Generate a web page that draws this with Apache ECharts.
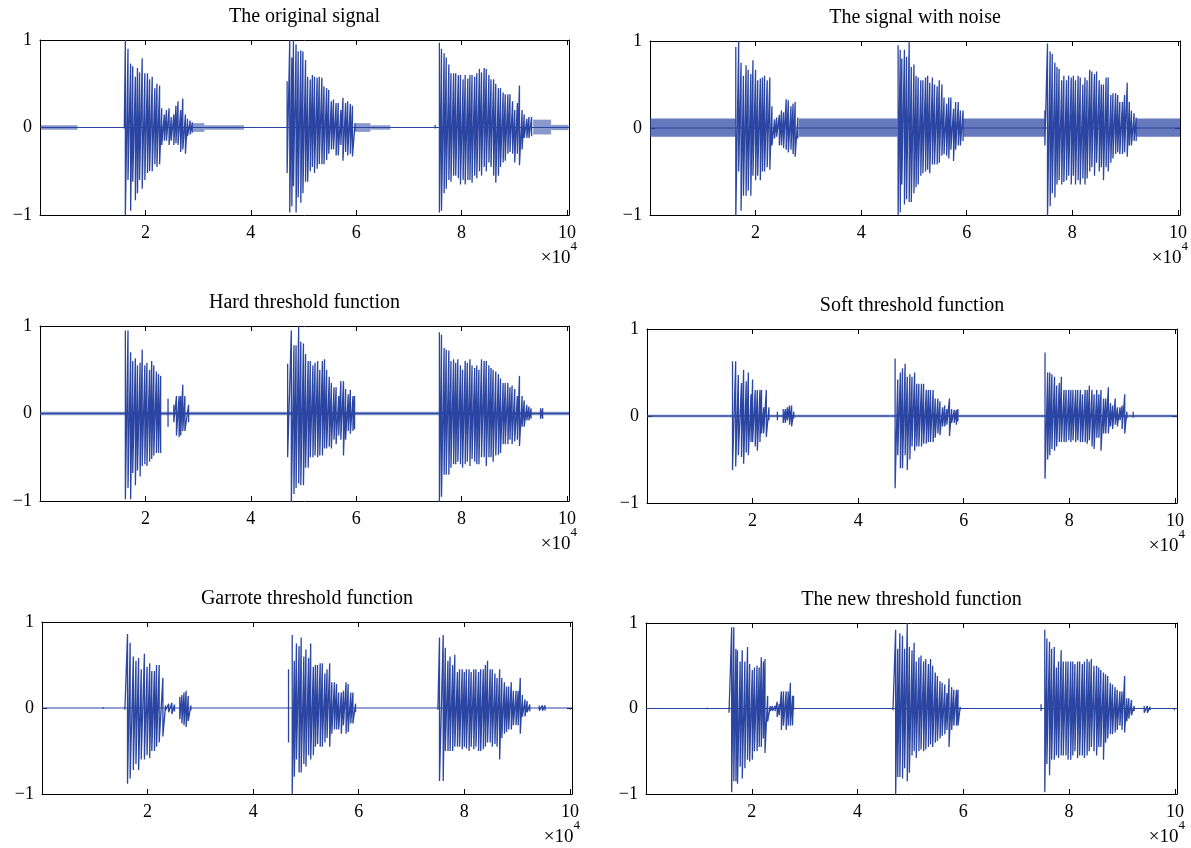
<!DOCTYPE html>
<html><head><meta charset="utf-8">
<script src="https://cdn.jsdelivr.net/npm/echarts@6/dist/echarts.min.js"></script>
<style>html,body{margin:0;padding:0;background:#fff}#c{width:1191px;height:848px}</style>
</head><body><div id="c"></div>
<script>
// ---------- DATA (x in units of 1e4 samples; strokes are [x, top, bottom]) ----------
const titles = ['The original signal','The signal with noise','Hard threshold function','Soft threshold function','Garrote threshold function','The new threshold function'];
const xTickLabels = [2,4,6,8,10];
const yTickLabels = [-1,0,1];
const xMax = 10.04;

const origB1 = [[1.60,0.03,-0.01],[1.62,1.0,-1.0],[1.67,0.9,-0.6],[1.72,0.73,-0.95],[1.76,0.7,-0.62],[1.81,0.58,-0.83],[1.85,0.68,-0.75],[1.89,0.63,-0.6],[1.94,0.79,-0.7],[1.99,0.62,-0.6],[2.04,0.62,-0.52],[2.08,0.55,-0.5],[2.13,0.58,-0.5],[2.18,0.45,-0.42],[2.22,0.5,-0.45],[2.27,0.48,-0.42],[2.31,0.22,-0.2],[2.36,0.15,-0.15],[2.40,0.2,-0.15],[2.45,0.22,-0.2],[2.49,0.12,-0.15],[2.54,0.15,-0.2],[2.58,0.25,-0.18],[2.62,0.3,-0.2],[2.67,0.2,-0.28],[2.71,0.33,-0.25],[2.76,0.15,-0.3],[2.80,0.1,-0.1],[2.85,0.08,-0.08],[2.89,0.06,-0.06]];
const origB2 = [[4.69,0.53,-0.52],[4.74,1.0,-0.97],[4.78,0.8,-0.9],[4.81,1.0,-0.67],[4.86,0.95,-0.97],[4.90,0.87,-0.8],[4.95,0.88,-0.86],[4.99,0.87,-0.75],[5.04,0.77,-0.62],[5.08,0.58,-0.62],[5.13,0.55,-0.5],[5.17,0.6,-0.45],[5.21,0.58,-0.52],[5.26,0.57,-0.47],[5.30,0.58,-0.42],[5.35,0.57,-0.42],[5.39,0.47,-0.42],[5.44,0.45,-0.37],[5.48,0.43,-0.3],[5.53,0.3,-0.25],[5.57,0.32,-0.25],[5.62,0.28,-0.32],[5.66,0.28,-0.32],[5.71,0.2,-0.2],[5.75,0.34,-0.38],[5.80,0.28,-0.28],[5.84,0.3,-0.32],[5.89,0.27,-0.3],[5.93,0.25,-0.33],[5.98,0.05,-0.04]];
const origB3 = [[7.50,0.03,-0.01],[7.58,0.97,-0.97],[7.62,0.9,-0.95],[7.67,0.85,-0.75],[7.71,0.8,-0.7],[7.76,0.72,-0.6],[7.80,0.62,-0.62],[7.85,0.62,-0.55],[7.89,0.62,-0.55],[7.94,0.6,-0.58],[7.98,0.6,-0.65],[8.03,0.55,-0.6],[8.07,0.6,-0.65],[8.12,0.56,-0.6],[8.16,0.6,-0.6],[8.20,0.6,-0.63],[8.25,0.58,-0.55],[8.29,0.62,-0.58],[8.34,0.67,-0.5],[8.38,0.63,-0.55],[8.43,0.68,-0.45],[8.47,0.67,-0.5],[8.52,0.6,-0.4],[8.56,0.55,-0.45],[8.61,0.55,-0.55],[8.65,0.5,-0.63],[8.70,0.45,-0.55],[8.74,0.45,-0.45],[8.79,0.4,-0.4],[8.83,0.38,-0.38],[8.88,0.38,-0.3],[8.92,0.38,-0.28],[8.97,0.3,-0.3],[9.01,0.2,-0.4],[9.06,0.28,-0.3],[9.10,0.48,-0.43],[9.15,0.2,-0.25],[9.19,0.15,-0.12],[9.24,0.1,-0.12],[9.28,0.12,-0.12],[9.33,0.12,-0.1]];
const origBand = [[0.02,0.71,0.025,-0.025],[2.9,3.12,0.05,-0.05],[3.12,3.87,0.025,-0.025],[5.98,6.27,0.05,-0.05],[6.27,6.65,0.025,-0.025],[9.36,9.7,0.09,-0.08],[9.7,10.03,0.03,-0.03]];

const noisyB1 = [[1.625,0.93,-1.03],[1.68,1.0,-0.5],[1.725,0.75,-0.95],[1.77,0.6,-0.78],[1.82,0.72,-0.78],[1.86,0.67,-0.72],[1.91,0.62,-0.78],[1.95,0.78,-0.55],[2.0,0.67,-0.6],[2.04,0.55,-0.55],[2.09,0.57,-0.6],[2.13,0.58,-0.5],[2.17,0.6,-0.5],[2.22,0.55,-0.45],[2.27,0.58,-0.48],[2.31,0.25,-0.2],[2.36,0.1,-0.12],[2.40,0.12,-0.1],[2.45,0.15,-0.2],[2.49,0.2,-0.2],[2.53,0.18,-0.23],[2.58,0.33,-0.25],[2.62,0.32,-0.28],[2.67,0.25,-0.25],[2.71,0.28,-0.3],[2.75,0.3,-0.33],[2.80,0.12,-0.12]];
const noisyB2 = [[4.70,0.95,-1.0],[4.74,0.9,-0.97],[4.77,0.8,-0.65],[4.82,0.9,-0.88],[4.86,0.82,-0.82],[4.91,1.0,-0.85],[4.95,0.7,-0.85],[5.0,0.73,-0.75],[5.04,0.6,-0.68],[5.08,0.58,-0.65],[5.13,0.55,-0.55],[5.17,0.55,-0.52],[5.22,0.58,-0.5],[5.26,0.6,-0.48],[5.30,0.52,-0.52],[5.35,0.58,-0.42],[5.39,0.5,-0.42],[5.44,0.48,-0.42],[5.48,0.55,-0.4],[5.53,0.5,-0.32],[5.57,0.35,-0.3],[5.62,0.28,-0.32],[5.66,0.35,-0.35],[5.70,0.35,-0.25],[5.75,0.22,-0.38],[5.79,0.3,-0.25],[5.84,0.3,-0.2],[5.88,0.2,-0.2],[5.93,0.2,-0.15]];
const noisyB3 = [[7.48,0.2,-0.2],[7.53,0.97,-1.03],[7.58,0.88,-0.9],[7.62,0.85,-0.75],[7.67,0.75,-0.8],[7.71,0.7,-0.65],[7.75,0.68,-0.6],[7.80,0.55,-0.65],[7.84,0.6,-0.62],[7.89,0.55,-0.6],[7.93,0.6,-0.55],[7.98,0.58,-0.65],[8.02,0.6,-0.55],[8.06,0.55,-0.65],[8.11,0.6,-0.6],[8.15,0.58,-0.65],[8.20,0.5,-0.58],[8.24,0.58,-0.65],[8.28,0.55,-0.58],[8.33,0.67,-0.5],[8.37,0.65,-0.45],[8.42,0.62,-0.55],[8.46,0.65,-0.4],[8.51,0.55,-0.5],[8.55,0.5,-0.45],[8.59,0.5,-0.6],[8.64,0.58,-0.45],[8.68,0.58,-0.5],[8.73,0.38,-0.4],[8.77,0.4,-0.35],[8.82,0.4,-0.3],[8.86,0.38,-0.28],[8.90,0.3,-0.3],[8.95,0.3,-0.3],[8.99,0.38,-0.28],[9.04,0.52,-0.33],[9.08,0.3,-0.2],[9.12,0.2,-0.2],[9.17,0.17,-0.15],[9.21,0.12,-0.15]];
const noisyBand = [[0.0,1.62,0.11,-0.1],[2.82,4.69,0.11,-0.1],[5.93,7.48,0.11,-0.1],[9.21,10.04,0.11,-0.1]];

const hardB1 = [[1.62,0.95,-0.98],[1.67,0.95,-0.85],[1.72,0.7,-0.98],[1.76,0.6,-0.68],[1.81,0.63,-0.82],[1.85,0.55,-0.65],[1.90,0.58,-0.72],[1.94,0.73,-0.6],[1.99,0.55,-0.58],[2.03,0.58,-0.6],[2.08,0.5,-0.55],[2.12,0.6,-0.52],[2.16,0.55,-0.48],[2.21,0.48,-0.45],[2.25,0.45,-0.45],[2.29,0.43,-0.45],[2.43,0.17,-0.15],[2.54,0.1,-0.1],[2.59,0.2,-0.25],[2.64,0.2,-0.27],[2.67,0.2,-0.25],[2.71,0.33,-0.2],[2.75,0.2,-0.2],[2.82,0.1,-0.1]];
const hardB2 = [[4.70,0.57,-0.5],[4.77,0.95,-1.03],[4.82,0.78,-0.92],[4.86,0.78,-0.85],[4.91,1.0,-0.8],[4.95,0.82,-0.82],[5.0,0.8,-0.82],[5.04,0.68,-0.62],[5.09,0.6,-0.62],[5.13,0.6,-0.5],[5.18,0.55,-0.5],[5.22,0.58,-0.48],[5.27,0.6,-0.5],[5.31,0.5,-0.48],[5.36,0.6,-0.48],[5.40,0.62,-0.4],[5.44,0.5,-0.4],[5.49,0.42,-0.38],[5.53,0.35,-0.4],[5.58,0.3,-0.3],[5.62,0.3,-0.35],[5.67,0.2,-0.25],[5.71,0.37,-0.3],[5.76,0.37,-0.48],[5.80,0.28,-0.3],[5.85,0.22,-0.2],[5.89,0.27,-0.23],[5.94,0.2,-0.2],[5.97,0.2,-0.18]];
const hardB3 = [[7.58,0.93,-1.03],[7.62,0.9,-0.95],[7.67,0.75,-0.7],[7.71,0.73,-0.7],[7.76,0.72,-0.7],[7.80,0.6,-0.62],[7.85,0.62,-0.58],[7.89,0.58,-0.58],[7.93,0.62,-0.55],[7.98,0.55,-0.58],[8.02,0.5,-0.62],[8.07,0.6,-0.58],[8.11,0.58,-0.55],[8.16,0.62,-0.6],[8.20,0.55,-0.52],[8.25,0.52,-0.55],[8.29,0.55,-0.58],[8.33,0.5,-0.58],[8.38,0.62,-0.5],[8.43,0.6,-0.5],[8.47,0.6,-0.6],[8.52,0.55,-0.5],[8.56,0.52,-0.5],[8.60,0.5,-0.55],[8.65,0.48,-0.48],[8.70,0.45,-0.47],[8.74,0.4,-0.45],[8.79,0.35,-0.35],[8.83,0.35,-0.35],[8.88,0.35,-0.35],[8.92,0.3,-0.3],[8.96,0.32,-0.35],[9.01,0.28,-0.32],[9.06,0.2,-0.3],[9.10,0.43,-0.37],[9.15,0.2,-0.15],[9.19,0.15,-0.15],[9.24,0.1,-0.08],[9.28,0.08,-0.08],[9.32,0.06,-0.06],[9.50,0.06,-0.06],[9.54,0.06,-0.06]];
const hardBand = [[0.0,10.04,0.02,-0.02]];

const softB1 = [[1.62,0.63,-0.62],[1.68,0.63,-0.58],[1.73,0.47,-0.45],[1.79,0.38,-0.47],[1.83,0.53,-0.55],[1.88,0.4,-0.42],[1.92,0.5,-0.45],[1.97,0.25,-0.3],[2.0,0.42,-0.3],[2.05,0.3,-0.35],[2.09,0.3,-0.4],[2.14,0.3,-0.3],[2.17,0.3,-0.2],[2.21,0.1,-0.2],[2.26,0.3,-0.24],[2.31,0.1,-0.05],[2.47,0.05,-0.05],[2.58,0.08,-0.08],[2.62,0.08,-0.08],[2.66,0.1,-0.05],[2.70,0.12,-0.1],[2.74,0.12,-0.12],[2.78,0.05,-0.03]];
const softB2 = [[4.70,0.66,-0.83],[4.75,0.42,-0.45],[4.80,0.5,-0.6],[4.84,0.55,-0.6],[4.89,0.6,-0.45],[4.93,0.45,-0.62],[4.98,0.48,-0.5],[5.02,0.45,-0.35],[5.07,0.5,-0.4],[5.11,0.37,-0.35],[5.15,0.37,-0.35],[5.20,0.37,-0.35],[5.24,0.37,-0.32],[5.29,0.3,-0.32],[5.33,0.3,-0.3],[5.37,0.3,-0.3],[5.42,0.3,-0.3],[5.46,0.2,-0.25],[5.51,0.2,-0.2],[5.55,0.17,-0.22],[5.60,0.1,-0.12],[5.64,0.12,-0.12],[5.68,0.08,-0.1],[5.73,0.2,-0.23],[5.77,0.08,-0.08],[5.82,0.07,-0.08],[5.86,0.07,-0.1],[5.89,0.08,-0.06]];
const softB3 = [[7.54,0.73,-0.72],[7.59,0.5,-0.5],[7.63,0.5,-0.45],[7.67,0.48,-0.38],[7.72,0.45,-0.4],[7.76,0.35,-0.35],[7.81,0.38,-0.3],[7.85,0.45,-0.3],[7.90,0.3,-0.3],[7.94,0.3,-0.3],[7.99,0.3,-0.28],[8.03,0.3,-0.3],[8.07,0.3,-0.28],[8.12,0.3,-0.3],[8.16,0.3,-0.28],[8.21,0.3,-0.3],[8.25,0.25,-0.3],[8.30,0.3,-0.3],[8.34,0.3,-0.32],[8.38,0.35,-0.28],[8.43,0.3,-0.35],[8.47,0.25,-0.38],[8.52,0.3,-0.25],[8.56,0.25,-0.25],[8.60,0.3,-0.4],[8.65,0.2,-0.2],[8.69,0.2,-0.2],[8.74,0.33,-0.2],[8.78,0.15,-0.12],[8.82,0.12,-0.15],[8.87,0.2,-0.1],[8.91,0.1,-0.12],[8.96,0.1,-0.05],[9.0,0.12,-0.15],[9.05,0.25,-0.2],[9.09,0.05,-0.03],[9.21,0.05,-0.02]];
const softBand = [[0.0,10.04,0.015,-0.015]];

const garB1 = [[1.16,0.01,-0.01],[1.57,0.02,-0.02],[1.62,0.86,-0.88],[1.67,0.76,-0.82],[1.73,0.6,-0.72],[1.78,0.55,-0.65],[1.83,0.58,-0.72],[1.88,0.45,-0.6],[1.94,0.63,-0.6],[1.99,0.48,-0.55],[2.04,0.52,-0.58],[2.08,0.43,-0.5],[2.13,0.43,-0.5],[2.17,0.5,-0.45],[2.22,0.5,-0.4],[2.29,0.35,-0.33],[2.34,0.03,-0.03],[2.40,0.05,-0.05],[2.46,0.06,-0.07],[2.51,0.04,-0.04],[2.61,0.13,-0.13],[2.65,0.15,-0.18],[2.69,0.18,-0.2],[2.73,0.2,-0.22],[2.77,0.14,-0.15],[2.82,0.03,-0.03]];
const garB2 = [[4.67,0.45,-0.4],[4.74,0.85,-1.0],[4.78,0.55,-0.8],[4.82,0.75,-0.6],[4.87,0.72,-0.75],[4.91,0.82,-0.75],[4.96,0.6,-0.65],[5.0,0.68,-0.68],[5.05,0.58,-0.55],[5.09,0.75,-0.6],[5.14,0.48,-0.55],[5.18,0.5,-0.45],[5.22,0.5,-0.42],[5.27,0.52,-0.45],[5.31,0.52,-0.45],[5.36,0.4,-0.4],[5.40,0.45,-0.35],[5.45,0.52,-0.45],[5.49,0.3,-0.3],[5.54,0.3,-0.25],[5.58,0.28,-0.25],[5.62,0.18,-0.25],[5.67,0.18,-0.3],[5.71,0.2,-0.2],[5.76,0.3,-0.3],[5.80,0.28,-0.28],[5.85,0.18,-0.18],[5.89,0.18,-0.18],[5.94,0.05,-0.05]];
const garB3 = [[7.50,0.03,-0.02],[7.53,0.82,-0.85],[7.60,0.85,-0.85],[7.64,0.7,-0.5],[7.69,0.55,-0.5],[7.73,0.6,-0.5],[7.78,0.5,-0.5],[7.82,0.62,-0.45],[7.87,0.42,-0.45],[7.91,0.45,-0.45],[7.96,0.45,-0.48],[8.0,0.42,-0.45],[8.04,0.45,-0.47],[8.09,0.45,-0.5],[8.13,0.42,-0.45],[8.18,0.45,-0.48],[8.22,0.45,-0.45],[8.27,0.42,-0.5],[8.31,0.45,-0.5],[8.36,0.45,-0.48],[8.40,0.5,-0.45],[8.44,0.55,-0.4],[8.49,0.45,-0.4],[8.53,0.45,-0.45],[8.58,0.4,-0.42],[8.62,0.35,-0.45],[8.67,0.45,-0.6],[8.71,0.35,-0.35],[8.76,0.3,-0.3],[8.80,0.25,-0.28],[8.84,0.25,-0.25],[8.89,0.3,-0.25],[8.93,0.2,-0.2],[8.98,0.2,-0.2],[9.02,0.2,-0.2],[9.06,0.35,-0.3],[9.10,0.15,-0.1],[9.15,0.1,-0.1],[9.19,0.08,-0.05],[9.24,0.04,-0.04],[9.42,0.03,-0.03],[9.48,0.03,-0.03],[9.53,0.03,-0.03],[10.01,0.0,-0.02]];
const garBand = [];

const newB1 = [[1.16,0.01,-0.01],[1.57,0.02,-0.05],[1.62,0.95,-0.98],[1.66,0.95,-0.85],[1.70,0.7,-0.85],[1.73,0.68,-0.88],[1.78,0.55,-0.68],[1.82,0.68,-0.82],[1.87,0.55,-0.7],[1.92,0.72,-0.6],[1.96,0.52,-0.62],[2.01,0.45,-0.6],[2.05,0.48,-0.5],[2.10,0.5,-0.5],[2.14,0.48,-0.45],[2.18,0.6,-0.45],[2.22,0.55,-0.35],[2.25,0.58,-0.52],[2.30,0.15,-0.15],[2.35,0.03,-0.03],[2.39,0.03,-0.03],[2.44,0.03,-0.03],[2.48,0.08,-0.1],[2.52,0.05,-0.08],[2.56,0.2,-0.25],[2.60,0.2,-0.2],[2.65,0.2,-0.25],[2.69,0.2,-0.2],[2.73,0.3,-0.2],[2.77,0.15,-0.2],[2.79,0.15,-0.02]];
const newB2 = [[4.67,0.02,-0.02],[4.72,0.92,-1.05],[4.76,0.7,-0.8],[4.80,0.88,-0.8],[4.85,0.85,-0.82],[4.89,0.7,-0.7],[4.94,1.0,-0.85],[4.98,0.72,-0.75],[5.03,0.68,-0.55],[5.07,0.77,-0.5],[5.11,0.55,-0.58],[5.16,0.6,-0.5],[5.20,0.62,-0.48],[5.25,0.55,-0.5],[5.29,0.58,-0.48],[5.34,0.52,-0.45],[5.38,0.58,-0.42],[5.42,0.5,-0.45],[5.47,0.42,-0.4],[5.51,0.38,-0.38],[5.56,0.32,-0.35],[5.60,0.3,-0.32],[5.65,0.28,-0.3],[5.69,0.18,-0.25],[5.73,0.35,-0.45],[5.78,0.25,-0.25],[5.82,0.22,-0.2],[5.87,0.22,-0.2],[5.90,0.22,-0.2],[5.94,0.02,-0.02]];
const newB3 = [[7.47,0.05,-0.03],[7.54,0.92,-0.98],[7.58,0.82,-0.65],[7.63,0.78,-0.78],[7.67,0.7,-0.6],[7.72,0.72,-0.6],[7.76,0.48,-0.55],[7.80,0.55,-0.58],[7.85,0.68,-0.55],[7.89,0.55,-0.55],[7.94,0.55,-0.55],[7.98,0.55,-0.6],[8.03,0.55,-0.6],[8.07,0.55,-0.55],[8.11,0.52,-0.5],[8.16,0.55,-0.58],[8.20,0.55,-0.55],[8.25,0.52,-0.55],[8.29,0.55,-0.58],[8.34,0.58,-0.55],[8.38,0.55,-0.5],[8.42,0.58,-0.45],[8.47,0.5,-0.5],[8.52,0.5,-0.55],[8.56,0.48,-0.45],[8.60,0.45,-0.45],[8.65,0.42,-0.6],[8.69,0.4,-0.4],[8.73,0.38,-0.35],[8.78,0.3,-0.3],[8.82,0.28,-0.3],[8.87,0.25,-0.28],[8.91,0.22,-0.25],[8.96,0.2,-0.2],[9.0,0.2,-0.25],[9.05,0.38,-0.28],[9.09,0.12,-0.15],[9.13,0.12,-0.12],[9.18,0.1,-0.08],[9.23,0.03,-0.03],[9.42,0.03,-0.05],[9.48,0.03,-0.05],[9.53,0.02,-0.02],[9.99,0.0,-0.02]];
const newBand = [];

// ---------- BUILD ----------
const panels = [
  {bursts:[origB1,origB2,origB3], bands:origBand, bandOpacity:0.55},
  {bursts:[noisyB1,noisyB2,noisyB3], bands:noisyBand, bandOpacity:0.72},
  {bursts:[hardB1,hardB2,hardB3], bands:hardBand, bandOpacity:0.6},
  {bursts:[softB1,softB2,softB3], bands:softBand, bandOpacity:0.6},
  {bursts:[garB1,garB2,garB3], bands:garBand, bandOpacity:0.6},
  {bursts:[newB1,newB2,newB3], bands:newBand, bandOpacity:0.6}
];
const grids = [
  {left:40, top:40, width:529, height:175},
  {left:650, top:41, width:530, height:174},
  {left:40, top:326, width:529, height:175},
  {left:647, top:329, width:530, height:174},
  {left:42, top:622, width:530, height:172},
  {left:646, top:623, width:531, height:171}
];
const BLUE = '#2a45a2';
const FONT = '"Liberation Serif", "DejaVu Serif", serif';

// separate polylines: burst zigzags between groups of nearby strokes
function burstLines(bursts){
  const all = [].concat(...bursts).sort((a,b)=>a[0]-b[0]);
  const groups = [];
  let cur = null, prev = null;
  for (const s of all){
    if (!prev || s[0]-prev[0] > 0.07){ cur = []; groups.push(cur); }
    cur.push(s); prev = s;
  }
  return groups.map(g=>{
    const pts = [];
    g.forEach(s=>{ pts.push([s[0],s[1]],[s[0],s[2]]); });
    return pts;
  });
}

const xAxes=[], yAxes=[], series=[], graphics=[];
const tickStyle = {show:true, inside:true, length:5, lineStyle:{color:'#000', width:1}};
const lineAxis = {show:true, onZero:false, lineStyle:{color:'#000', width:1}};
grids.forEach((g,i)=>{
  xAxes.push({gridIndex:i, type:'value', position:'bottom', min:0, max:xMax, interval:2,
    axisLine:lineAxis, axisTick:tickStyle, splitLine:{show:false},
    axisLabel:{color:'#000', fontFamily:FONT, fontSize:18, margin:9,
      formatter:v=> xTickLabels.includes(Math.round(v*1000)/1000) ? String(v) : ''}});
  xAxes.push({gridIndex:i, type:'value', position:'top', min:0, max:xMax, interval:2,
    axisLine:lineAxis, axisTick:tickStyle, axisLabel:{show:false}, splitLine:{show:false}});
  yAxes.push({gridIndex:i, type:'value', position:'left', min:-1, max:1, interval:1,
    axisLine:lineAxis, axisTick:tickStyle, splitLine:{show:false},
    axisLabel:{color:'#000', fontFamily:FONT, fontSize:18, margin:8,
      formatter:v=> yTickLabels.includes(v) ? (v<0 ? '\u2212'+Math.abs(v) : String(v)) : ''}});
  yAxes.push({gridIndex:i, type:'value', position:'right', min:-1, max:1, interval:1,
    axisLine:lineAxis, axisTick:tickStyle, axisLabel:{show:false}, splitLine:{show:false}});
  const p = panels[i];
  series.push({type:'line', xAxisIndex:2*i, yAxisIndex:2*i, data:[[0,0],[xMax,0]], showSymbol:false, symbol:'none',
    lineStyle:{color:BLUE, width:1.1}, z:2, animation:false});
  series.push({type:'custom', xAxisIndex:2*i, yAxisIndex:2*i, data:p.bands, encode:{x:[0,1], y:[2,3]}, z:1,
    renderItem:(params, api)=>{
      const a = api.coord([api.value(0), api.value(2)]);
      const b = api.coord([api.value(1), api.value(3)]);
      return {type:'rect', shape:{x:a[0], y:a[1], width:b[0]-a[0], height:Math.max(b[1]-a[1],1.5)},
        style:{fill:BLUE, opacity:p.bandOpacity}};
    }});
  burstLines(p.bursts).forEach(pts=>{
    series.push({type:'line', xAxisIndex:2*i, yAxisIndex:2*i, data:pts, showSymbol:false, symbol:'none',
      lineStyle:{color:BLUE, width:1.3}, z:3, animation:false});
  });
  const cx = g.left + g.width/2, right = g.left + g.width, bottom = g.top + g.height;
  graphics.push({type:'text', x:cx, y:g.top-23, style:{text:titles[i], font:'20px '+FONT, fill:'#000', align:'center', verticalAlign:'middle', textAlign:'center', textVerticalAlign:'middle'}});
  graphics.push({type:'text', x:right+1.5, y:bottom+43, style:{text:'\u00d710', font:'19px '+FONT, fill:'#000', align:'right', verticalAlign:'middle', textAlign:'right', textVerticalAlign:'middle'}});
  graphics.push({type:'text', x:right+1.5, y:bottom+32, style:{text:'4', font:'13px '+FONT, fill:'#000', align:'left', verticalAlign:'middle', textAlign:'left', textVerticalAlign:'middle'}});
});

const chart = echarts.init(document.getElementById('c'), null, {renderer:'canvas'});
chart.setOption({
  animation:false,
  backgroundColor:'#fff',
  grid: grids.map(g=>({left:g.left, top:g.top, width:g.width, height:g.height, containLabel:false})),
  xAxis:xAxes, yAxis:yAxes, series:series, graphic:graphics
});
</script></body></html>
